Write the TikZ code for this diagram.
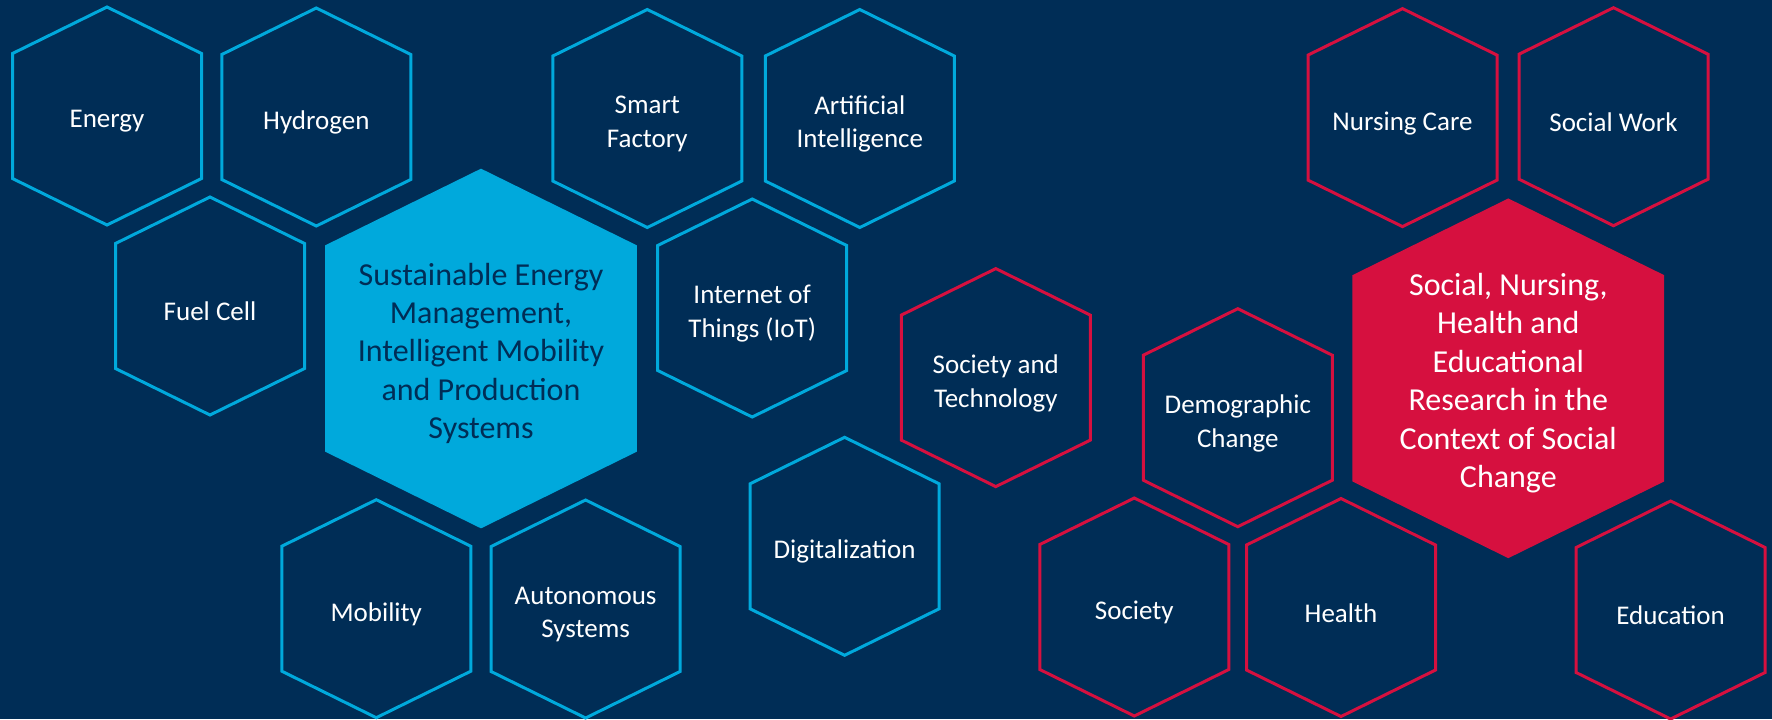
\documentclass[tikz,border=0pt]{standalone}
\usepackage{fontspec}
\setmainfont{Carlito}
\usetikzlibrary{positioning}

\definecolor{navy}{RGB}{0,45,86}
\definecolor{hsblue}{RGB}{0,169,220}
\definecolor{hsred}{RGB}{214,16,63}

\tikzset{
	bluecell/.style={draw=hsblue, line width=1.5pt},
	redcell/.style={draw=hsred, line width=1.5pt},
	bluecore/.style={fill=hsblue, draw=none},
	redcore/.style={fill=hsred, draw=none},
	celltext/.style={text=white, align=center, inner sep=0pt, yshift=-2.8pt, font=\fontsize{13.5}{16.75}\selectfont},
	coretext/.style={align=center, inner sep=0pt, yshift=-2.4pt, font=\fontsize{16}{19.2}\selectfont}
}

% name, x, y, size, cell style, text style, text
\newcommand{\hexcell}[7]{
	\draw[#5, shift={(#2,#3)}, scale=#4] (0,-109) -- (94.5,-62.5) -- (94.5,62.5) -- (0,109) -- (-94.5,62.5) -- (-94.5,-62.5) -- cycle;
	\node[#6] (#1) at (#2,#3) {#7};
}

\begin{document}
\begin{tikzpicture}[x=0.5pt, y=-0.5pt]
		\fill[navy] (0,0) rectangle (1772,719);
		\useasboundingbox (0,0) rectangle (1772,719);

		% blue cluster
		\hexcell{Energy}{107}{116}{1}{bluecell}{celltext}{Energy}
		\hexcell{Hydrogen}{316.3}{117}{1}{bluecell}{celltext}{Hydrogen}
		\hexcell{FuelCell}{210}{306}{1}{bluecell}{celltext}{Fuel Cell}
		\hexcell{Sustain}{481}{348.5}{1.65}{bluecore}{coretext, text=navy}{Sustainable Energy\\Management,\\Intelligent Mobility\\and Production\\Systems}
		\hexcell{SmartF}{647.3}{118.5}{1}{bluecell}{celltext}{Smart\\Factory}
		\hexcell{AI}{859.8}{118.5}{1}{bluecell}{celltext}{Artificial\\Intelligence}
		\hexcell{IoT}{752.2}{308}{1}{bluecell}{celltext}{Internet of\\Things (IoT)}
		\hexcell{Mobility}{376.3}{608.7}{1}{bluecell}{celltext}{Mobility}
		\hexcell{Autonom}{585.6}{609}{1}{bluecell}{celltext}{Autonomous\\Systems}
		\hexcell{Digital}{844.6}{546.3}{1}{bluecell}{celltext}{Digitalization}

		% red cluster
		\hexcell{SocTech}{995.8}{377.6}{1}{redcell}{celltext}{Society and\\Technology}
		\hexcell{Demogr}{1237.8}{417.7}{1}{redcell}{celltext}{Demographic\\Change}
		\hexcell{Nursing}{1402.5}{117.6}{1}{redcell}{celltext}{Nursing Care}
		\hexcell{SocWork}{1613.5}{116.7}{1}{redcell}{celltext}{Social Work}
		\hexcell{SocialCore}{1508.3}{378.3}{1.65}{redcore}{coretext, text=white}{Social, Nursing,\\Health and\\Educational\\Research in the\\Context of Social\\Change}
		\hexcell{Society}{1134.3}{607}{1}{redcell}{celltext}{Society}
		\hexcell{Health}{1341}{607.5}{1}{redcell}{celltext}{Health}
		\hexcell{Education}{1670.6}{610}{1}{redcell}{celltext}{Education}
	\end{tikzpicture}
\end{document}
